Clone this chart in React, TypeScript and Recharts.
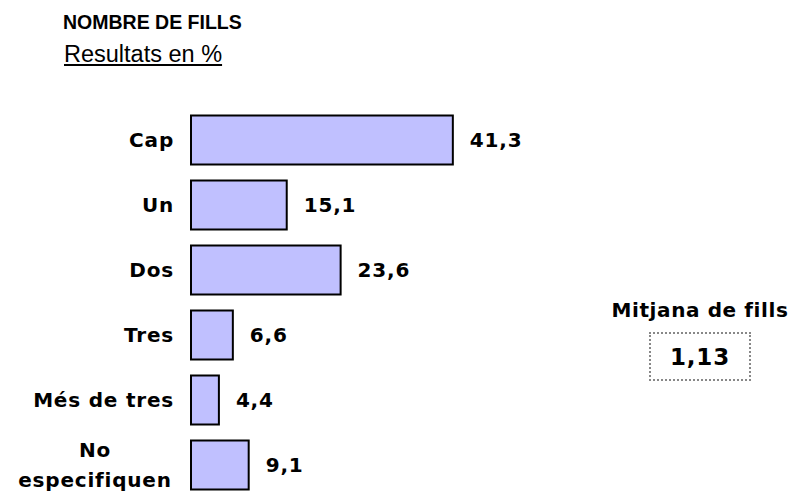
import React from "react"
import { BarChart, Bar, XAxis, YAxis, LabelList } from "recharts"

const categories = ["Cap", "Un", "Dos", "Tres", "Més de tres", "No especifiquen"]
const percentages = [41.3, 15.1, 23.6, 6.6, 4.4, 9.1]
const tickLines: Record<string, string[]> = {
  "No especifiquen": ["No", "especifiquen"],
}
const title = "NOMBRE DE FILLS"
const subtitle = "Resultats en %"
const meanLabel = "Mitjana de fills"
const meanValue = "1,13"

const data = categories.map((name, i) => ({ name, value: percentages[i] }))

const labelFont = "Verdana, 'DejaVu Sans', sans-serif"
const labelStyle = {
  fontFamily: labelFont,
  fontWeight: "bold" as const,
  fontSize: 20,
  letterSpacing: 0.8,
  fill: "#000",
}

const formatPct = (v: number) => String(v).replace(".", ",")

function CategoryTick(props: any) {
  const { x, y, payload } = props
  const lines = tickLines[payload.value]
  if (lines) {
    return (
      <text x={x - 79} y={y} textAnchor="middle" style={labelStyle}>
        <tspan x={x - 79} dy={-15 + 7}>{lines[0]}</tspan>
        <tspan x={x - 79} dy={30}>{lines[1]}</tspan>
      </text>
    )
  }
  return (
    <text x={x} y={y} dy={7} textAnchor="end" style={labelStyle}>
      {payload.value}
    </text>
  )
}

export default function App() {
  return (
    <div style={{ position: "relative", width: 794, height: 492, overflow: "hidden", background: "#fff" }}>
      <style>{"body{margin:0;overflow:hidden}"}</style>
      <div
        style={{
          position: "absolute",
          left: 63,
          top: 12,
          fontFamily: "Arial, 'Liberation Sans', sans-serif",
          fontWeight: "bold",
          fontSize: 19.5,
          lineHeight: "20px",
        }}
      >
        {title}
      </div>
      <div
        style={{
          position: "absolute",
          left: 64,
          top: 41,
          fontFamily: "Arial, 'Liberation Sans', sans-serif",
          fontSize: 23.5,
          lineHeight: "26px",
          textDecoration: "underline",
        }}
      >
        {subtitle}
      </div>

      <div style={{ position: "absolute", left: 0, top: 0 }}>
        <BarChart
          layout="vertical"
          width={794}
          height={500}
          data={data}
          margin={{ top: 107.5, right: 32.4, left: 0, bottom: 2.5 }}
        >
          <XAxis type="number" domain={[0, 90]} hide />
          <YAxis
            type="category"
            dataKey="name"
            width={191}
            axisLine={false}
            tickLine={false}
            tickSize={0}
            tickMargin={17}
            interval={0}
            tick={<CategoryTick />}
          />
          <Bar dataKey="value" fill="#c0c0ff" stroke="#000" strokeWidth={2} barSize={49} isAnimationActive={false}>
            <LabelList
              dataKey="value"
              position="right"
              offset={17}
              formatter={(v: any) => formatPct(v)}
              style={labelStyle}
            />
          </Bar>
        </BarChart>
      </div>

      <div
        style={{
          position: "absolute",
          left: 600,
          width: 200,
          top: 298,
          textAlign: "center",
          fontFamily: labelFont,
          fontWeight: "bold",
          fontSize: 20,
          letterSpacing: 0.6,
          lineHeight: "24px",
        }}
      >
        {meanLabel}
      </div>
      <div
        style={{
          position: "absolute",
          left: 649,
          top: 332,
          width: 98,
          height: 45,
          border: "2px dotted #888",
          display: "flex",
          alignItems: "center",
          justifyContent: "center",
          fontFamily: labelFont,
          fontWeight: "bold",
          fontSize: 23,
          letterSpacing: 0.8,
        }}
      >
        {meanValue}
      </div>
    </div>
  )
}
